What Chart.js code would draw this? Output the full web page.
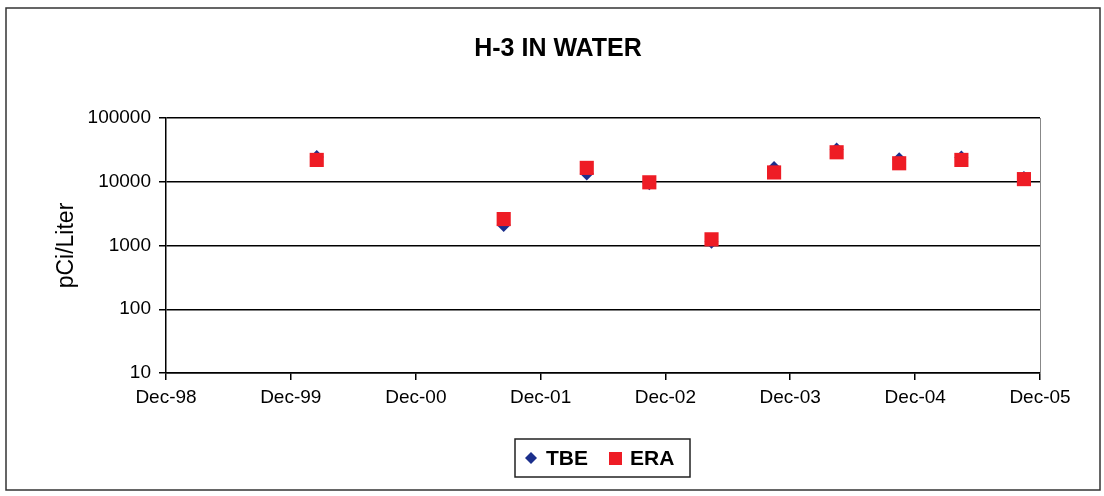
<!DOCTYPE html>
<html>
<head>
<meta charset="utf-8">
<script src="https://cdn.jsdelivr.net/npm/chart.js@4/dist/chart.umd.min.js"></script>
<style>
  html, body { margin: 0; padding: 0; background: #fff; }
  #wrap { width: 1104px; height: 496px; position: relative; }
</style>
</head>
<body>
<div id="wrap"><canvas id="h3Chart" width="1104" height="496"></canvas></div>
<script>
/* ================= DATA ================= */
const sampleDates = [
  "2000-02-15", "2001-08-15", "2002-04-15", "2002-10-15", "2003-04-15",
  "2003-10-15", "2004-04-15", "2004-10-15", "2005-04-15", "2005-10-15"
];
const tbeValues = [24500, 2100, 13500, 9500, 1150, 16500, 32000, 22500, 24000, 11500];
const eraValues = [22000, 2600, 16500, 9800, 1250, 14000, 29000, 19500, 22000, 11000];
const tickDates = ["1998-12-01", "1999-12-01", "2000-12-01", "2001-12-01",
                   "2002-12-01", "2003-12-01", "2004-12-01", "2005-12-01"];
const tickLabels = ["Dec-98", "Dec-99", "Dec-00", "Dec-01", "Dec-02", "Dec-03", "Dec-04", "Dec-05"];
const yTicks = [10, 100, 1000, 10000, 100000];

const FONT = "'Liberation Sans', Arial, sans-serif";
const toTime = s => Date.parse(s + "T00:00:00Z");
const tickTimes = tickDates.map(toTime);

const tbePoints = sampleDates.map((d, i) => ({ x: toTime(d), y: tbeValues[i] }));
const eraPoints = sampleDates.map((d, i) => ({ x: toTime(d), y: eraValues[i] }));

/* ================= FRAME, TITLE + LEGEND ================= */
const framePlugin = {
  id: "frame",
  afterDraw(chart) {
    const ctx = chart.ctx;
    const a = chart.chartArea;
    ctx.save();
    // right edge of plot area
    ctx.strokeStyle = "#888";
    ctx.lineWidth = 1;
    ctx.beginPath();
    ctx.moveTo(a.right + 0.5, a.top);
    ctx.lineTo(a.right + 0.5, a.bottom);
    ctx.stroke();

    // outer border
    ctx.strokeStyle = "#333";
    ctx.lineWidth = 1.5;
    ctx.strokeRect(6, 8, 1094, 482);

    // chart title
    ctx.fillStyle = "#000";
    ctx.font = "bold 25px " + FONT;
    ctx.textAlign = "center";
    ctx.textBaseline = "middle";
    ctx.fillText("H-3 IN WATER", 558, 49);

    // legend box
    ctx.textAlign = "left";
    ctx.strokeStyle = "#222";
    ctx.lineWidth = 1.5;
    ctx.strokeRect(515, 439, 175, 38);

    ctx.font = "bold 21px " + FONT;

    // TBE diamond
    ctx.fillStyle = "#1b2f8c";
    ctx.beginPath();
    ctx.moveTo(531, 452);
    ctx.lineTo(537, 458);
    ctx.lineTo(531, 464);
    ctx.lineTo(525, 458);
    ctx.closePath();
    ctx.fill();
    ctx.fillStyle = "#000";
    ctx.fillText("TBE", 546, 459);

    // ERA square
    ctx.fillStyle = "#ee1c25";
    ctx.fillRect(609, 452, 13, 13);
    ctx.fillStyle = "#000";
    ctx.fillText("ERA", 630, 459);
    ctx.restore();
  }
};

/* ================= CHART ================= */
new Chart(document.getElementById("h3Chart"), {
  type: "scatter",
  data: {
    datasets: [
      {
        label: "TBE",
        data: tbePoints,
        pointStyle: "rectRot",
        pointRadius: 7,
        pointHoverRadius: 7,
        backgroundColor: "#1b2f8c",
        borderColor: "#1b2f8c",
        borderWidth: 0,
        order: 1
      },
      {
        label: "ERA",
        data: eraPoints,
        pointStyle: "rect",
        pointRadius: 10,
        pointHoverRadius: 10,
        backgroundColor: "#ee1c25",
        borderColor: "#ee1c25",
        borderWidth: 0,
        order: 0
      }
    ]
  },
  options: {
    responsive: false,
    animation: false,
    layout: { padding: { left: 0, right: 64, top: 118, bottom: 0 } },
    plugins: {
      legend: { display: false },
      tooltip: { enabled: false },
      title: { display: false }
    },
    scales: {
      x: {
        type: "linear",
        min: tickTimes[0],
        max: tickTimes[tickTimes.length - 1],
        afterBuildTicks(scale) {
          scale.ticks = tickTimes.map(v => ({ value: v }));
        },
        afterFit(scale) { scale.height = 123; },
        ticks: {
          color: "#000",
          font: { family: FONT, size: 19 },
          padding: 6,
          maxRotation: 0,
          autoSkip: false,
          callback: (v) => tickLabels[tickTimes.indexOf(v)] ?? ""
        },
        grid: {
          drawOnChartArea: false,
          drawTicks: true,
          tickLength: 7,
          color: "#000",
          lineWidth: 1.5
        },
        border: { display: true, color: "#000", width: 1.5 }
      },
      y: {
        type: "logarithmic",
        min: 10,
        max: 100000,
        afterBuildTicks(scale) {
          scale.ticks = yTicks.map(v => ({ value: v }));
        },
        afterFit(scale) { scale.width = 166; },
        ticks: {
          color: "#000",
          font: { family: FONT, size: 19 },
          padding: 8,
          callback: (v) => String(v)
        },
        grid: {
          color: "#000",
          lineWidth: 1.5,
          tickLength: 7
        },
        border: { display: true, color: "#000", width: 1.5 },
        title: {
          display: true,
          text: "pCi/Liter",
          color: "#000",
          font: { family: FONT, size: 23 },
          padding: { top: 53, bottom: 0 }
        }
      }
    }
  },
  plugins: [framePlugin]
});
</script>
</body>
</html>
